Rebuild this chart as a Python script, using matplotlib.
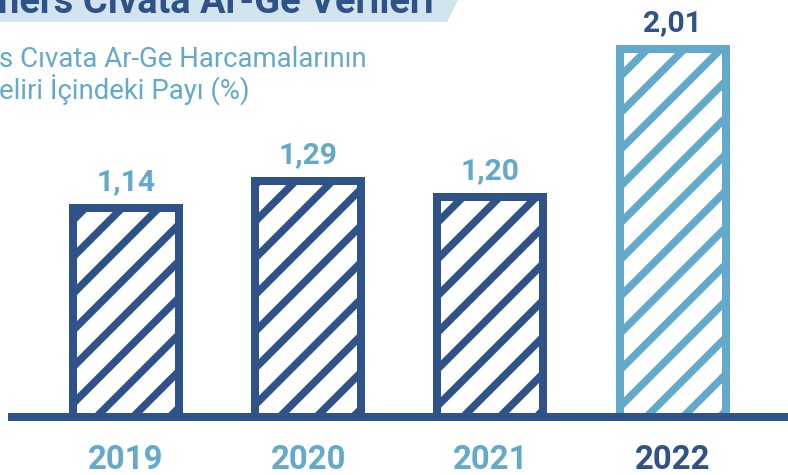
import matplotlib
matplotlib.use("Agg")
import matplotlib.pyplot as plt
from matplotlib.patches import Polygon

years = ["2019", "2020", "2021", "2022"]
shares = [1.14, 1.29, 1.20, 2.01]
value_labels = ["1,14", "1,29", "1,20", "2,01"]

title = "ners Cıvata Ar-Ge Verileri"
subtitle_1 = "s Cıvata Ar-Ge Harcamalarının"
subtitle_2 = "eliri İçindeki Payı (%)"

DARK = "#2F5288"
LIGHT = "#63A9C9"
BANNER = "#D2E4EE"

DPI = 220  # hatch spacing follows dpi, this gives the wide stripes
W, H = 788, 475
PT = 72 / DPI  # points per pixel

plt.rcParams["font.family"] = ["Roboto", "DejaVu Sans"]
plt.rcParams["hatch.linewidth"] = 7.5 * PT

fig = plt.figure(figsize=(W / DPI, H / DPI), dpi=DPI)
ax = fig.add_axes([0, 0, 1, 1])

# pixel layout -> data limits
x0_px, step_px = 126, 182.2
base_px, scale_px = 417, 183.1
ax.set_xlim(-x0_px / step_px, (W - x0_px) / step_px)
ax.set_ylim(-(H - base_px) / scale_px, base_px / scale_px)
ax.axis("off")

bar_w = 106 / step_px
for i, (yr, v, lab) in enumerate(zip(years, shares, value_labels)):
    c = LIGHT if yr == "2022" else DARK
    tc = DARK if yr == "2022" else LIGHT
    ax.bar(i, v, width=bar_w, facecolor="white", edgecolor=c,
           linewidth=8 * PT, hatch="//", zorder=2)
    ax.annotate(lab, (i, v), xytext=(0, 18 * PT), textcoords="offset points",
                ha="center", va="baseline", fontsize=30 * PT,
                fontweight="bold", color=tc)
    ax.annotate(yr, (i, 0), xytext=(0, -52 * PT), textcoords="offset points",
                ha="center", va="baseline", fontsize=33 * PT,
                fontweight="bold", color=tc)

ax.axhline(0, xmin=12 / W, xmax=1, color=DARK, linewidth=8 * PT, zorder=3)

# title banner (cropped at the top left like the original)
banner = Polygon([(0, 1), (458 / W, 1), (447 / W, 1 - 22 / H), (0, 1 - 22 / H)],
                 closed=True, transform=fig.transFigure, facecolor=BANNER,
                 edgecolor="none", zorder=0)
fig.patches.append(banner)
fig.text(-2 / W, 1 - 13 / H, title, ha="left", va="baseline",
         fontsize=38 * PT, fontweight="bold", color=DARK)

fig.text(-1 / W, 1 - 67 / H, subtitle_1, ha="left", va="baseline",
         fontsize=27.5 * PT, color=LIGHT)
fig.text(-1 / W, 1 - 100 / H, subtitle_2, ha="left", va="baseline",
         fontsize=27.5 * PT, color=LIGHT)

fig.savefig("out.png", dpi=DPI)
